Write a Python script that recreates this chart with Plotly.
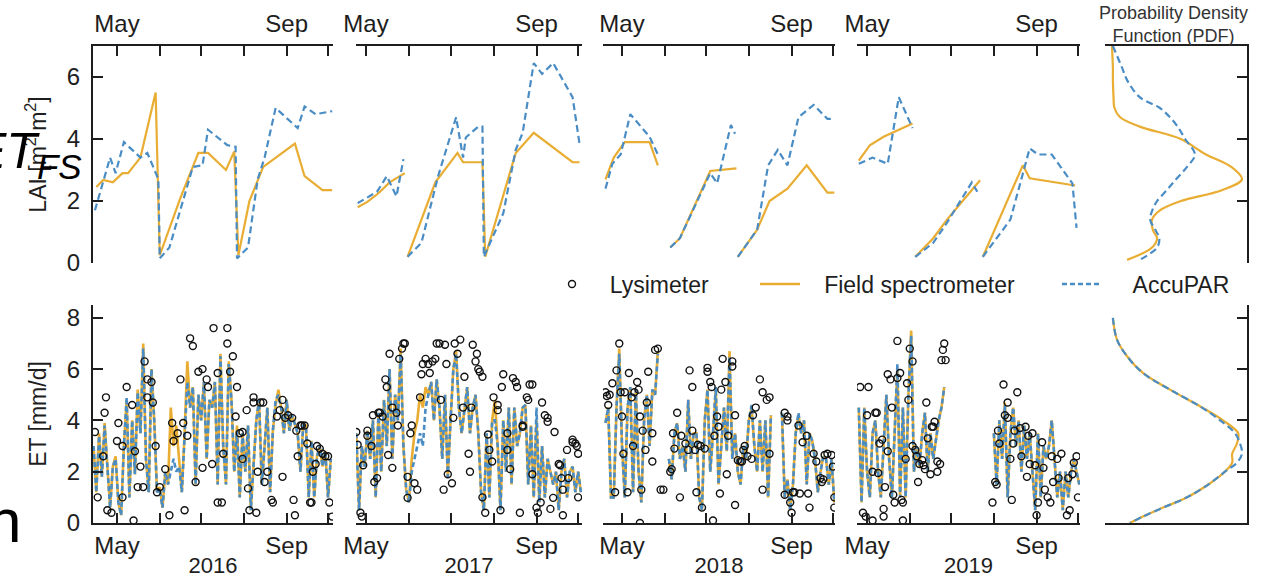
import plotly.graph_objects as go

# ---------------- data ----------------
YEARS = [2016, 2017, 2018, 2019]
MONTH_TICKS = [121, 152, 182, 213, 244, 274]
MONTH_TEXT = ["May", "", "", "", "Sep", ""]
YEAR_TEXT = ["2016", "2017", "2018", "2019"]
LAI_TICKS = [0, 2, 4, 6]
ET_TICKS = [0, 2, 4, 6, 8]

# LAI, field spectrometer (FS) and AccuPAR (AP); x = day of year
lai_fs_doy_2016 = [106, 111, 118, 125, 129, 138, 149, 152, 167, 180, 187, 200, 206, 209, 217, 227, 250, 257, 270, 277]
lai_fs_2016 = [2.45, 2.68, 2.6, 2.9, 2.9, 3.4, 5.5, 0.25, 2.1, 3.55, 3.55, 3.0, 3.6, 0.25, 2.0, 3.1, 3.85, 2.8, 2.35, 2.35]
lai_ap_doy_2016 = [105, 116, 120, 126, 138, 143, 151, 152, 159, 176, 183, 187, 201, 207, 208, 216, 223, 228, 236, 252, 257, 265, 277]
lai_ap_2016 = [1.7, 3.4, 2.9, 3.9, 3.4, 3.55, 2.7, 0.15, 0.5, 3.1, 3.15, 4.3, 3.8, 3.75, 0.15, 0.5, 2.7, 3.4, 5.0, 4.35, 5.05, 4.8, 4.9]

lai_fs_doy_2017 = [115, 122, 130, 138, 149, 150, 151, 171, 187, 191, 205, 207, 229, 242, 270, 275]
lai_fs_2017 = [1.8, 1.97, 2.25, 2.6, 2.9, None, 0.2, 2.6, 3.55, 3.25, 3.25, 0.2, 3.55, 4.2, 3.25, 3.25]
lai_ap_doy_2017 = [115, 129, 136, 143, 148, 149.5, 151, 161, 173, 186, 191, 193, 202, 205, 206, 220, 229, 234, 242, 248, 256, 270, 275]
lai_ap_2017 = [1.93, 2.3, 2.8, 2.15, 3.35, None, 0.2, 0.65, 2.8, 4.7, 3.4, 4.05, 4.4, 4.4, 0.2, 1.6, 3.65, 4.2, 6.45, 6.1, 6.45, 5.35, 3.85]

lai_fs_doy_2018 = [109, 115, 123, 141, 147, 150, 156, 163, 185, 204, 204.7, 205, 219, 228, 241, 255, 270, 275]
lai_fs_2018 = [2.7, 3.4, 3.9, 3.9, 3.15, None, 0.5, 0.8, 2.97, 3.05, None, 0.2, 1.07, 2.0, 2.4, 3.15, 2.27, 2.27]
lai_ap_doy_2018 = [109, 114, 120, 127, 141, 147, 150, 156, 163, 185, 190, 200, 203, 204, 205, 219, 227, 234, 241, 249, 260, 270, 274]
lai_ap_2018 = [2.4, 3.2, 3.5, 4.8, 4.07, 3.5, None, 0.5, 0.8, 2.9, 2.57, 4.45, 4.17, None, 0.2, 1.07, 3.15, 3.65, 3.15, 4.7, 5.1, 4.65, 4.65]

lai_fs_doy_2019 = [115, 123, 133, 154, 155, 156, 169, 179, 203, 204, 205, 234, 239, 272]
lai_fs_2019 = [3.3, 3.8, 4.07, 4.5, None, 0.2, 0.8, 1.4, 2.67, None, 0.2, 3.15, 2.73, 2.5]
lai_ap_doy_2019 = [115, 125, 136, 144, 154, 155, 156, 169, 179, 197, 201, 203, 205, 225, 239, 245, 255, 270, 273]
lai_ap_2019 = [3.2, 3.4, 3.2, 5.35, 4.35, None, 0.2, 0.65, 1.3, 2.6, 2.3, None, 0.2, 1.4, 3.7, 3.5, 3.5, 2.57, 1.13]

# ET [mm/d], modelled every 2nd day from a start day of year
et_start_2016 = 104
et_fs_2016 = [3.0, 1.2, 3.5, 1.8, 3.9, 2.0, 0.6, 2.2, 2.6, 0.8,
              0.3, 3.0, 4.8, 1.0, 4.0, 1.9, 5.2, 3.5, 7.0, 2.5,
              1.2, 6.0, 4.0, 1.2, 1.4, 0.6, 2.0, 1.5, 4.5, 3.0,
              3.8, 2.5, 1.2, 3.5, 6.3, 4.5, 5.3, 1.5, 5.0, 4.0,
              5.5, 2.5, 4.8, 4.5, 5.5, 1.5, 6.6, 3.0, 1.5, 6.3,
              4.8, 2.0, 3.8, 1.0, 3.5, 2.0, 3.8, 0.5, 2.2, 4.0,
              4.8, 1.5, 3.0, 4.5, 1.2, 3.6, 4.6, 5.2, 4.5, 3.5,
              4.8, 3.6, 4.2, 3.8, 3.5, 2.0, 3.8, 3.8, 1.0, 3.2,
              1.0, 2.6, 3.0, 2.2, 2.8, 1.0, 2.5]
et_ap_2016 = [3.0, 1.2, 3.4, 1.8, 3.8, 2.0, 0.6, 2.2, 2.5, 0.8,
              0.3, 3.0, 4.9, 1.0, 4.0, 1.9, 5.1, 3.5, 6.8, 2.5,
              1.2, 6.0, 4.0, 1.2, 1.3, 0.6, 2.0, 1.5, 2.0, 2.5,
              2.0, 2.2, 1.2, 3.5, 5.5, 4.5, 5.3, 1.5, 5.0, 4.0,
              5.5, 2.5, 4.8, 4.5, 5.5, 1.5, 6.5, 3.0, 1.5, 6.2,
              4.8, 2.0, 3.6, 1.0, 3.5, 2.0, 3.8, 0.5, 2.2, 4.0,
              4.8, 1.5, 3.0, 4.5, 1.2, 3.6, 4.8, 5.0, 4.5, 3.5,
              4.8, 3.6, 4.2, 3.8, 3.5, 2.0, 3.8, 3.8, 1.0, 3.2,
              1.0, 2.6, 3.0, 2.2, 2.8, 1.0, 2.5]

et_start_2017 = 114
et_fs_2017 = [3.5, 0.5, 3.0, 2.2, 3.6, 2.5, 4.0, 1.0, 4.3, 2.0,
              4.8, 3.0, 6.0, 2.5, 5.0, 4.0, 6.8, 3.0, 1.3, 0.8,
              2.5, 3.5, 4.0, 5.0, 4.5, 5.3, 5.0, 5.5, 4.0, 5.6,
              4.5, 2.5, 5.0, 1.8, 4.0, 6.0, 6.7, 4.5, 3.5, 4.5,
              5.3, 3.5, 4.5, 5.0, 3.5, 1.2, 0.5, 3.5, 1.0, 4.0,
              4.8, 3.0, 0.5, 4.0, 2.0, 4.5, 1.5, 4.5, 3.0, 3.5,
              4.5, 4.6, 1.5, 3.8, 1.0, 4.0, 0.8, 3.0, 1.0, 2.5,
              2.0, 1.5, 2.0, 0.5, 2.0, 2.5, 1.0, 2.0, 2.2, 1.2,
              2.0, 1.2]
et_ap_2017 = [3.5, 0.5, 3.0, 2.2, 3.6, 2.5, 4.0, 1.0, 4.3, 2.0,
              4.8, 3.0, 6.0, 2.5, 5.0, 4.0, 6.6, 3.0, 1.3, 0.8,
              2.0, 2.5, 3.0, 3.5, 3.0, 4.5, 5.0, 5.5, 4.0, 5.6,
              4.5, 2.5, 5.0, 1.8, 4.0, 6.0, 6.6, 4.5, 3.5, 4.5,
              5.3, 3.5, 4.5, 5.0, 3.5, 1.2, 0.5, 3.5, 1.0, 4.0,
              4.0, 3.0, 0.5, 4.0, 2.0, 4.5, 1.5, 4.5, 3.0, 3.5,
              4.5, 4.6, 1.5, 3.8, 1.0, 4.5, 0.8, 3.0, 1.0, 2.5,
              2.0, 1.5, 2.0, 0.5, 2.0, 2.5, 1.0, 2.0, 2.2, 1.2,
              2.0, 1.2]

et_start_2018 = 109
et_fs_2018 = [3.9, 4.5, 1.0, 1.0, 4.5, 6.8, 3.0, 1.0, 4.5, 5.3,
              1.2, 5.2, 2.0, 0.8, 4.0, 5.0, 3.0, 5.2, 5.0, 6.7,
              None, None, None, 2.5, 1.7, 3.5, 3.9, 2.5, 3.0, 2.0,
              4.8, 2.5, 3.5, 3.5, 1.0, 0.5, 4.0, 5.2, 2.0, 3.5,
              5.2, 1.5, 3.0, 4.5, 2.8, 6.7, 2.5, 3.5, 2.0, 1.5,
              3.0, 2.5, 4.0, 4.5, 3.0, 2.0, 4.0, 2.0, 4.0, 1.0,
              4.2, None, None, None, 4.3, 1.0, 1.7, 0.5, 1.5, 3.5,
              4.2, 3.5, 4.0, 1.5, 3.5, 3.2, 2.5, 1.2, 2.0, 2.6,
              2.5, 1.5, 2.5, 0.8]
et_ap_2018 = [3.9, 4.5, 1.0, 1.0, 4.5, 6.6, 3.0, 1.0, 4.5, 5.3,
              1.2, 5.2, 2.0, 0.8, 4.0, 5.0, 3.0, 5.2, 5.0, 6.6,
              None, None, None, 2.5, 1.7, 3.5, 3.9, 2.5, 3.0, 2.0,
              4.8, 2.5, 3.5, 3.5, 1.0, 0.5, 4.0, 5.2, 2.0, 3.5,
              5.3, 1.5, 3.0, 4.5, 2.8, 6.5, 2.5, 3.5, 2.0, 1.5,
              3.0, 2.5, 4.0, 4.6, 3.0, 2.0, 4.0, 2.0, 4.0, 1.0,
              4.2, None, None, None, 4.3, 1.0, 1.7, 0.5, 1.5, 3.5,
              4.3, 3.5, 4.0, 1.5, 3.5, 3.2, 2.5, 1.2, 2.0, 2.6,
              2.5, 1.5, 2.5, 0.8]

et_start_2019 = 115
et_fs_2019 = [4.5, 0.8, 4.5, 2.0, 1.0, 3.5, 4.0, 2.0, 1.0, 3.0,
              5.0, 2.5, 1.0, 3.5, 6.0, 1.0, 4.5, 1.0, 5.0, 7.5,
              2.0, 3.0, 2.2, 3.5, 4.3, 2.0, 3.5, 2.5, 3.2, 4.0,
              4.5, 5.3, None, None, None, None, None, None, None, None,
              None, None, None, None, None, None, None, None, None, 3.5,
              1.5, 4.0, 2.5, 4.7, 1.0, 3.5, 4.5, 3.0, 4.0, 2.0,
              3.8, 2.5, 3.5, 2.0, 0.5, 3.5, 1.0, 3.0, 2.5, 3.0,
              4.0, 2.5, 1.0, 2.0, 0.5, 2.0, 1.0, 2.0, 2.5, 2.0,
              1.5]
et_ap_2019 = [4.5, 0.8, 4.5, 2.0, 1.0, 3.5, 4.0, 2.0, 1.0, 3.0,
              5.0, 2.5, 1.0, 3.5, 6.2, 1.0, 4.5, 1.0, 5.0, 7.3,
              2.0, 3.0, 2.2, 3.5, 4.3, 2.0, 3.5, 2.5, 3.2, 4.0,
              4.5, 5.3, None, None, None, None, None, None, None, None,
              None, None, None, None, None, None, None, None, None, 3.5,
              1.5, 4.0, 2.5, 4.6, 1.0, 3.5, 4.5, 3.0, 4.0, 2.0,
              3.8, 2.5, 3.5, 2.0, 0.5, 3.5, 1.0, 3.0, 2.5, 3.0,
              4.0, 2.5, 1.0, 2.0, 0.5, 2.0, 1.0, 2.0, 2.5, 2.0,
              1.5]

# Lysimeter ET (day of year, mm/d)
lys_doy_2016 = [105, 107, 111, 112, 113, 114, 117, 121, 122, 125,
                125, 128, 132, 133, 134, 136, 138, 140, 141, 143,
                143, 146, 147, 149, 150, 152, 156, 159, 161, 162,
                165, 167, 169, 170, 172, 174, 176, 178, 180, 183,
                183, 186, 187, 190, 191, 194, 194, 197, 198, 201,
                201, 203, 205, 207, 208, 210, 212, 212, 215, 216,
                217, 220, 220, 222, 223, 225, 227, 228, 230, 233,
                234, 237, 239, 241, 241, 243, 245, 248, 249, 250,
                251, 252, 254, 255, 257, 259, 261, 262, 263, 265,
                266, 268, 270, 272, 274, 275, 277]
lys_et_2016 = [3.55, 1.0, 2.6, 4.3, 4.9, 0.5, 0.4, 3.2, 3.9, 1.0,
               3.0, 5.3, 4.6, 0.1, 2.8, 1.4, 2.2, 1.4, 6.3, 4.9,
               5.6, 5.5, 4.7, 3.0, 1.2, 1.4, 2.1, 0.3, 3.9, 3.2,
               3.5, 5.6, 3.9, 0.5, 3.4, 7.2, 6.9, 1.6, 5.9, 6.0,
               2.15, 5.6, 5.3, 2.3, 7.6, 5.85, 0.8, 0.8, 2.7, 7.6,
               7.0, 5.9, 6.5, 4.15, 5.3, 3.5, 2.5, 3.55, 4.4, 1.35,
               0.5, 4.7, 4.9, 0.4, 2.0, 4.7, 4.7, 1.6, 2.0, 0.9,
               0.8, 4.15, 4.4, 4.8, 1.8, 4.1, 4.2, 4.1, 0.9, 0.3,
               3.6, 2.6, 3.8, 3.8, 3.8, 3.1, 0.8, 0.8, 2.0, 2.3,
               3.0, 2.9, 2.7, 2.6, 2.6, 0.8, 0.25]

lys_doy_2017 = [114, 115, 117, 118, 119, 122, 122, 125, 126, 127,
                129, 130, 131, 133, 135, 136, 137, 138, 140, 140,
                143, 144, 145, 147, 148, 149, 151, 151, 153, 154,
                156, 158, 160, 161, 162, 164, 166, 167, 169, 171,
                172, 174, 175, 177, 178, 179, 180, 183, 184, 185,
                187, 189, 191, 192, 195, 196, 197, 198, 200, 201,
                202, 203, 205, 205, 207, 209, 210, 212, 213, 216,
                216, 218, 219, 220, 223, 223, 225, 227, 229, 230,
                232, 234, 234, 237, 238, 239, 241, 241, 244, 245,
                247, 248, 250, 252, 252, 254, 256, 257, 260, 261,
                262, 263, 263, 266, 267, 270, 270, 272, 273, 274, 274]
lys_et_2017 = [3.55, 3.05, 0.4, 0.25, 2.25, 3.4, 3.6, 3.0, 4.2, 1.6,
               1.75, 4.3, 4.3, 4.15, 5.6, 5.3, 2.65, 6.6, 4.5, 2.15,
               4.3, 3.8, 6.4, 6.8, 7.0, 7.0, 1.8, 0.98, 3.5, 3.8,
               1.55, 1.3, 4.9, 5.8, 6.2, 6.4, 6.2, 5.85, 6.3, 6.4,
               7.0, 7.0, 4.8, 1.3, 6.95, 6.2, 1.9, 1.55, 4.1, 7.0,
               6.6, 7.15, 4.5, 5.7, 2.7, 2.0, 4.5, 6.95, 6.3, 6.6,
               6.0, 5.9, 5.7, 1.0, 0.4, 3.45, 2.85, 2.4, 4.9, 4.6,
               4.4, 0.5, 5.3, 5.8, 3.5, 2.85, 2.1, 5.65, 5.5, 5.3,
               0.4, 3.75, 3.8, 4.9, 4.8, 5.4, 5.4, 1.9, 0.6, 0.4,
               0.8, 4.7, 4.2, 4.1, 3.95, 0.55, 0.98, 3.55, 2.3, 2.25,
               1.75, 1.3, 0.3, 2.85, 1.75, 3.15, 3.25, 3.1, 3.0, 2.7, 1.0]

lys_doy_2018 = [109, 110, 111, 112, 114, 116, 117, 119, 120, 121,
                122, 123, 125, 126, 128, 129, 130, 132, 133, 134,
                135, 136, 138, 139, 140, 143, 143, 145, 147, 149,
                151, 156, 157, 158, 159, 161, 163, 164, 167, 169,
                170, 172, 172, 174, 175, 176, 178, 179, 181, 183,
                183, 185, 186, 188, 190, 191, 192, 193, 194, 196,
                197, 198, 201, 201, 203, 203, 205, 207, 208, 209,
                210, 212, 215, 216, 218, 221, 223, 223, 226, 228,
                228, 239, 241, 241, 239, 243, 244, 245, 246, 249,
                250, 252, 255, 256, 257, 260, 262, 265, 266, 267,
                268, 270, 273, 274, 275, 275, 134, 187]
lys_et_2018 = [5.1, 4.95, 4.6, 5.0, 5.45, 1.2, 5.95, 7.0, 5.1, 4.15,
               2.7, 5.1, 1.2, 5.85, 4.9, 3.0, 5.1, 5.5, 5.2, 4.15,
               1.3, 3.6, 2.85, 4.7, 5.9, 3.5, 2.4, 6.75, 6.8, 1.3,
               1.3, 2.0, 2.1, 3.5, 2.9, 4.3, 1.0, 3.4, 3.1, 2.85,
               5.95, 5.3, 3.6, 2.85, 1.2, 3.05, 3.0, 0.6, 2.9, 5.9,
               6.05, 5.5, 5.3, 3.4, 4.15, 3.75, 1.15, 5.2, 6.4, 5.5,
               1.9, 3.4, 6.1, 6.3, 4.2, 0.7, 2.45, 2.4, 2.4, 2.85,
               3.0, 2.6, 2.5, 4.2, 4.5, 5.6, 1.3, 5.1, 4.8, 4.9,
               2.7, 4.3, 4.15, 4.0, 1.1, 0.8, 0.4, 1.2, 1.2, 3.8,
               1.15, 3.15, 3.4, 1.15, 0.6, 2.7, 2.4, 1.75, 1.6, 1.7,
               2.65, 2.7, 2.65, 2.2, 1.0, 0.6, 0.0, 0.1]

lys_doy_2019 = [116, 118, 120, 121, 122, 125, 125, 127, 128, 129,
                130, 132, 133, 133, 134, 136, 136, 138, 139, 140,
                141, 143, 143, 145, 146, 147, 149, 150, 151, 152,
                154, 154, 156, 157, 158, 159, 161, 162, 163, 164,
                165, 167, 168, 169, 170, 172, 172, 174, 175, 176,
                177, 178, 212, 214, 215, 216, 217, 220, 221, 223,
                223, 225, 226, 227, 228, 230, 232, 233, 236, 237,
                238, 239, 241, 243, 244, 245, 248, 249, 250, 252,
                254, 255, 256, 259, 260, 262, 266, 267, 268, 270,
                271, 273, 274, 147]
lys_et_2019 = [5.3, 0.4, 0.25, 4.2, 5.3, 0.1, 2.0, 4.3, 4.3, 1.95,
               3.1, 3.25, 0.55, 0.25, 1.4, 2.8, 5.8, 5.6, 4.5, 1.1,
               0.8, 5.65, 7.1, 5.85, 0.9, 0.8, 2.5, 5.45, 4.8, 6.8,
               6.3, 3.0, 2.85, 2.6, 1.6, 2.3, 2.45, 2.25, 2.1, 4.7,
               3.3, 1.9, 3.75, 3.75, 3.95, 2.4, 2.0, 2.3, 6.35, 6.75,
               7.0, 6.35, 0.8, 1.6, 1.5, 3.6, 3.1, 5.4, 4.2, 4.7,
               4.1, 2.5, 0.9, 3.1, 3.6, 5.1, 3.7, 2.6, 3.75, 1.8,
               3.4, 2.3, 3.5, 2.25, 0.3, 0.8, 3.15, 2.15, 1.3, 1.0,
               0.8, 2.6, 1.6, 2.5, 1.75, 2.7, 0.3, 1.75, 0.5, 1.9,
               2.35, 2.6, 1.0, 0.1]

# Probability density functions (density at given LAI / ET levels)
pdf_lai_levels = [7.0, 6.3, 5.9, 5.35, 5.0, 4.7, 4.4, 4.0, 3.5, 3.1, 2.7, 2.35, 2.0, 1.7, 1.4, 1.06, 0.8, 0.5, 0.1]
pdf_lai_fs = [0.022, 0.025, 0.025, 0.027, 0.03, 0.048, 0.11, 0.24, 0.32, 0.40, 0.434, 0.37, 0.24, 0.174, 0.149, 0.152, 0.165, 0.149, 0.07]
pdf_lai_ap = [0.025, 0.054, 0.07, 0.11, 0.174, 0.206, 0.23, 0.254, 0.285, 0.26, 0.225, 0.196, 0.165, 0.15, 0.143, 0.16, 0.172, 0.165, 0.11]
pdf_et_levels = [8.0, 7.15, 6.5, 5.85, 5.2, 4.55, 4.0, 3.5, 3.1, 2.7, 2.35, 2.0, 1.55, 1.0, 0.6, 0.25, 0.0]
pdf_et_fs = [0.025, 0.038, 0.070, 0.120, 0.206, 0.301, 0.374, 0.422, 0.418, 0.403, 0.403, 0.380, 0.333, 0.260, 0.184, 0.120, 0.079]
pdf_et_ap = [0.025, 0.038, 0.070, 0.120, 0.206, 0.301, 0.365, 0.412, 0.428, 0.434, 0.418, 0.380, 0.333, 0.260, 0.184, 0.120, 0.079]

# ---------------- assemble ----------------
lai_fs_doy = {2016: lai_fs_doy_2016, 2017: lai_fs_doy_2017, 2018: lai_fs_doy_2018, 2019: lai_fs_doy_2019}
lai_fs = {2016: lai_fs_2016, 2017: lai_fs_2017, 2018: lai_fs_2018, 2019: lai_fs_2019}
lai_ap_doy = {2016: lai_ap_doy_2016, 2017: lai_ap_doy_2017, 2018: lai_ap_doy_2018, 2019: lai_ap_doy_2019}
lai_ap = {2016: lai_ap_2016, 2017: lai_ap_2017, 2018: lai_ap_2018, 2019: lai_ap_2019}
et_start = {2016: et_start_2016, 2017: et_start_2017, 2018: et_start_2018, 2019: et_start_2019}
et_fs = {2016: et_fs_2016, 2017: et_fs_2017, 2018: et_fs_2018, 2019: et_fs_2019}
et_ap = {2016: et_ap_2016, 2017: et_ap_2017, 2018: et_ap_2018, 2019: et_ap_2019}
lys_doy = {2016: lys_doy_2016, 2017: lys_doy_2017, 2018: lys_doy_2018, 2019: lys_doy_2019}
lys_et = {2016: lys_et_2016, 2017: lys_et_2017, 2018: lys_et_2018, 2019: lys_et_2019}

for yr in YEARS:
    assert len(lai_fs_doy[yr]) == len(lai_fs[yr]), yr
    assert len(lai_ap_doy[yr]) == len(lai_ap[yr]), yr
    assert len(et_fs[yr]) == len(et_ap[yr]), yr
    assert len(lys_doy[yr]) == len(lys_et[yr]), yr

# ---------------- style / layout ----------------
W, H = 1266, 580
FONT = "Liberation Sans, Arial, Helvetica, sans-serif"
ORANGE = "#E8AD32"
BLUE = "#4A8CC4"
INK = "#1e1e1e"
NBSP = "\u00a0"
X_RANGES = {2016: [103.6, 277.6], 2017: [113.8, 276.8], 2018: [107.2, 275.5], 2019: [113.7, 275.5]}
COL_PX = {2016: (93, 333), 2017: (356, 582), 2018: (603, 835), 2019: (857, 1080), "pdf": (1105, 1247)}
LAI_DOM = [1 - 263 / H, 1 - 46 / H]
ET_DOM = [1 - 523 / H, 1 - 305 / H]


def xdom(key):
    a, b = COL_PX[key]
    return [a / W, b / W]


def ax_name(kind, n):
    return kind + "axis" + ("" if n == 1 else str(n))


def ref(kind, n):
    return kind + ("" if n == 1 else str(n))


fig = go.Figure()
layout = {}

line_axis = dict(showline=True, linecolor=INK, linewidth=2, showgrid=False, zeroline=False,
                 tickcolor=INK, tickwidth=2, ticklen=10, automargin=False)

for i, yr in enumerate(YEARS):
    nL, nE = i + 1, i + 6
    # LAI panel
    fig.add_trace(go.Scatter(x=lai_fs_doy[yr], y=lai_fs[yr], mode="lines",
                             line=dict(color=ORANGE, width=2.2), showlegend=False,
                             xaxis=ref("x", nL), yaxis=ref("y", nL)))
    fig.add_trace(go.Scatter(x=lai_ap_doy[yr], y=lai_ap[yr], mode="lines",
                             line=dict(color=BLUE, width=2.2, dash="7px,4px"), showlegend=False,
                             xaxis=ref("x", nL), yaxis=ref("y", nL)))
    # ET panel
    xs = [et_start[yr] + 2 * k for k in range(len(et_fs[yr]))]
    fig.add_trace(go.Scatter(x=xs, y=et_fs[yr], mode="lines", name=NBSP * 3 + "Field spectrometer",
                             line=dict(color=ORANGE, width=2.6), showlegend=(i == 0), legend="legend2",
                             xaxis=ref("x", nE), yaxis=ref("y", nE)))
    fig.add_trace(go.Scatter(x=xs, y=et_ap[yr], mode="lines", name=NBSP * 4 + "AccuPAR",
                             line=dict(color=BLUE, width=2.6, dash="5px,3px"), showlegend=(i == 0), legend="legend3",
                             xaxis=ref("x", nE), yaxis=ref("y", nE)))
    fig.add_trace(go.Scatter(x=lys_doy[yr], y=lys_et[yr], mode="markers", name=NBSP * 2 + "Lysimeter",
                             marker=dict(symbol="circle-open", size=7, color="#111111", line=dict(width=1.4)),
                             showlegend=(i == 0), legend="legend",
                             xaxis=ref("x", nE), yaxis=ref("y", nE)))

    layout[ax_name("x", nL)] = dict(line_axis, domain=xdom(yr), anchor=ref("y", nL), range=X_RANGES[yr],
                                    side="top", ticks="inside", tickvals=MONTH_TICKS, ticktext=MONTH_TEXT,
                                    ticklabelstandoff=2,
                                    tickfont=dict(size=24, color=INK, family=FONT))
    layout[ax_name("x", nE)] = dict(line_axis, domain=xdom(yr), anchor=ref("y", nE), range=X_RANGES[yr],
                                    side="bottom", ticks="inside", tickvals=MONTH_TICKS, ticktext=MONTH_TEXT,
                                    tickfont=dict(size=24, color=INK, family=FONT),
                                    title=dict(text=YEAR_TEXT[i], font=dict(size=22, color=INK, family=FONT), standoff=0))
    if i == 0:
        layout[ax_name("y", nL)] = dict(line_axis, domain=LAI_DOM, anchor=ref("x", nL), range=[0, 7],
                                        ticks="inside", tickvals=LAI_TICKS, ticklabelstandoff=6,
                                        tickfont=dict(size=24, color=INK, family=FONT),
                                        title=dict(text="LAI [m<sup>2</sup> m<sup>2</sup>]", standoff=14,
                                                   font=dict(size=23, color=INK, family=FONT)))
        layout[ax_name("y", nE)] = dict(line_axis, domain=ET_DOM, anchor=ref("x", nE), range=[0, 8.5],
                                        ticks="inside", tickvals=ET_TICKS, ticklabelstandoff=6,
                                        tickfont=dict(size=24, color=INK, family=FONT),
                                        title=dict(text="ET [mm/d]", standoff=14,
                                                   font=dict(size=23, color=INK, family=FONT)))
    else:
        layout[ax_name("y", nL)] = dict(domain=LAI_DOM, anchor=ref("x", nL), range=[0, 7], visible=False,
                                        automargin=False)
        layout[ax_name("y", nE)] = dict(domain=ET_DOM, anchor=ref("x", nE), range=[0, 8.5], visible=False,
                                        automargin=False)

# PDF panels
fig.add_trace(go.Scatter(x=pdf_lai_fs, y=pdf_lai_levels, mode="lines", line=dict(color=ORANGE, width=2.2, shape="spline"),
                         showlegend=False, xaxis="x5", yaxis="y5"))
fig.add_trace(go.Scatter(x=pdf_lai_ap, y=pdf_lai_levels, mode="lines",
                         line=dict(color=BLUE, width=2.2, dash="7px,4px", shape="spline"),
                         showlegend=False, xaxis="x5", yaxis="y5"))
fig.add_trace(go.Scatter(x=pdf_et_fs, y=pdf_et_levels, mode="lines", line=dict(color=ORANGE, width=2.2, shape="spline"),
                         showlegend=False, xaxis="x10", yaxis="y10"))
fig.add_trace(go.Scatter(x=pdf_et_ap, y=pdf_et_levels, mode="lines",
                         line=dict(color=BLUE, width=2.2, dash="7px,4px", shape="spline"),
                         showlegend=False, xaxis="x10", yaxis="y10"))

layout["xaxis5"] = dict(line_axis, domain=xdom("pdf"), anchor="y5", range=[0, 0.45], side="top",
                        ticks="", showticklabels=False)
layout["yaxis5"] = dict(line_axis, domain=LAI_DOM, anchor="x5", range=[0, 7], side="right",
                        ticks="inside", tickvals=LAI_TICKS, showticklabels=False)
layout["xaxis10"] = dict(line_axis, domain=xdom("pdf"), anchor="y10", range=[0, 0.45], side="bottom",
                         ticks="", showticklabels=False)
layout["yaxis10"] = dict(line_axis, domain=ET_DOM, anchor="x10", range=[0, 8.5], side="right",
                         ticks="inside", tickvals=ET_TICKS, showticklabels=False)

legend_common = dict(orientation="h", yanchor="middle", y=1 - 284 / H, xanchor="left",
                     bgcolor="rgba(0,0,0,0)", font=dict(size=23, color=INK, family=FONT), itemwidth=40)
layout["legend"] = dict(legend_common, x=547 / W)
layout["legend2"] = dict(legend_common, x=755 / W)
layout["legend3"] = dict(legend_common, x=1057 / W)

annotations = [
    dict(text="Probability Density<br>Function (PDF)", x=1173 / W, y=1 - 1 / H, xref="paper", yref="paper",
         xanchor="center", yanchor="top", showarrow=False, font=dict(size=18, color="#333333", family=FONT)),
    dict(text="<i>ET</i><sub><i>FS</i></sub>", x=84 / W, y=1 - 155 / H, xref="paper", yref="paper",
         xanchor="right", yanchor="middle", showarrow=False, font=dict(size=50, color="#000000", family=FONT)),
    dict(text="n", x=23 / W, y=1 - 520 / H, xref="paper", yref="paper",
         xanchor="right", yanchor="middle", showarrow=False, font=dict(size=62, color="#000000", family=FONT)),
]

fig.update_layout(
    width=W, height=H, autosize=False,
    margin=dict(l=0, r=0, t=0, b=0, autoexpand=False),
    paper_bgcolor="white", plot_bgcolor="white",
    font=dict(family=FONT, color=INK),
    annotations=annotations,
    **layout,
)

fig.write_html("out.html", config={"displayModeBar": False},
               post_script="document.body.style.margin='0px';document.body.style.overflow='hidden';")
